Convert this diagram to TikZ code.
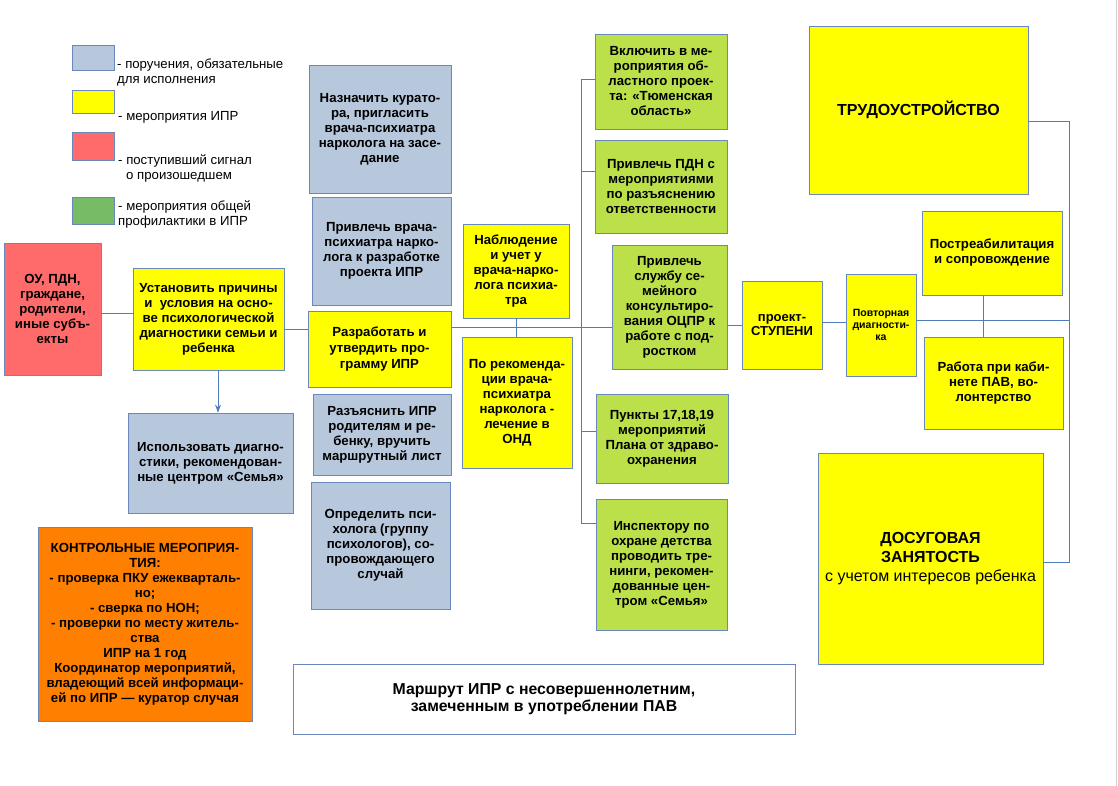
\documentclass[tikz,border=0pt]{standalone}
\usepackage{fontspec}
\setmainfont{Liberation Sans}
\usetikzlibrary{arrows.meta}
\definecolor{bordc}{HTML}{6A88BE}
\definecolor{linec}{HTML}{4F7DB9}
\definecolor{blueF}{HTML}{B8C8DC}
\definecolor{yelF}{HTML}{FFFF00}
\definecolor{redF}{HTML}{FF6B6B}
\definecolor{greenL}{HTML}{77BB66}
\definecolor{greenF}{HTML}{BBE04A}
\definecolor{orangeF}{HTML}{FF8000}
\tikzset{
  box/.style={draw=bordc, line width=0.8pt, inner sep=0pt, align=center,
    font=\bfseries\fontsize{13.2}{15}\selectfont},
  bluebox/.style={box, fill=blueF},
  yelbox/.style={box, fill=yelF},
  redbox/.style={box, fill=redF},
  grbox/.style={box, fill=greenF},
  orbox/.style={box, fill=orangeF},
  whbox/.style={box, fill=white},
  swatch/.style={draw=bordc, line width=0.8pt, inner sep=0pt},
  legtext/.style={anchor=west, inner sep=0pt, align=left, font=\fontsize{13.2}{15.2}\selectfont},
  conn/.style={draw=linec, line width=0.9pt},
}
\newcommand\bx[7]{%
  \pgfmathsetmacro\bxw{#5-#3}\pgfmathsetmacro\bxh{#6-#4}%
  \pgfmathsetmacro\bxx{(#3+#5)/2}\pgfmathsetmacro\bxy{(#4+#6)/2}%
  \node[#1, minimum width=\bxw pt, minimum height=\bxh pt, anchor=center] (#2) at (\bxx,\bxy) {#7};}
\begin{document}
\begin{tikzpicture}[x=1pt,y=-1pt]
\useasboundingbox (0,0) rectangle (1118,786);
\draw[gray!35, line width=0.8pt] (1116,0) -- (1116,786);

% legend
\bx{swatch, fill=blueF}{lg1}{72}{45}{114}{70}{}
\bx{swatch, fill=yelF}{lg2}{72}{90}{114}{113}{}
\bx{swatch, fill=redF}{lg3}{72}{132}{114}{160}{}
\bx{swatch, fill=greenL}{lg4}{72}{197}{114}{224}{}
\node[legtext] (lt1) at (117,72.5) {- поручения, обязательные\\для исполнения};
\node[legtext] (lt2) at (118,117) {- мероприятия ИПР};
\node[legtext] (lt3) at (118,168.5) {- поступивший сигнал\\\hspace*{8pt}о произошедшем};
\node[legtext] (lt4) at (118,214.5) {- мероприятия общей\\профилактики в ИПР};

% left column
\bx{redbox}{ou}{4}{243}{101}{375}{ОУ, ПДН,\\граждане,\\родители,\\иные субъ-\\екты}
\bx{yelbox}{ust}{133}{268}{284}{370}{Установить причины\\и\ \ условия на осно-\\ве психологической\\диагностики семьи и\\ребенка}
\bx{bluebox}{isp}{128}{413}{293}{513}{Использовать диагно-\\стики, рекомендован-\\ные центром «Семья»}
\bx{orbox}{ctrl}{38}{527}{252}{721}{КОНТРОЛЬНЫЕ МЕРОПРИЯ-\\ТИЯ:\\- проверка ПКУ ежекварталь-\\но;\\- сверка по НОН;\\- проверки по месту житель-\\ства\\ИПР на 1 год\\Координатор мероприятий,\\владеющий всей информаци-\\ей по ИПР — куратор случая}

% second column
\bx{bluebox}{naz}{309}{65}{451}{193}{Назначить курато-\\ра, пригласить\\врача-психиатра\\нарколога на засе-\\дание}
\bx{bluebox}{privl}{312}{197}{451}{305}{Привлечь врача-\\психиатра нарко-\\лога к разработке\\проекта ИПР}
\bx{yelbox,font=\bfseries\fontsize{13.2}{16}\selectfont}{razr}{308}{311}{451}{387}{Разработать и\\утвердить про-\\грамму ИПР}
\bx{bluebox}{razya}{313}{394}{451}{475}{Разъяснить ИПР\\родителям и ре-\\бенку, вручить\\маршрутный лист}
\bx{bluebox}{opr}{311}{482}{450}{609}{Определить пси-\\холога (группу\\психологов), со-\\провождающего\\случай}

% third column
\bx{yelbox}{nab}{463}{224}{569}{318}{Наблюдение\\и учет у\\врача-нарко-\\лога психиа-\\тра}
\bx{yelbox}{rek}{462}{337}{572}{468}{По рекоменда-\\ции врача-\\психиатра\\нарколога -\\лечение в\\ОНД}

% green column
\bx{grbox}{vkl}{595}{34}{727}{129}{Включить в ме-\\роприятия об-\\ластного проек-\\та: «Тюменская\\область»}
\bx{grbox}{pdn}{595}{140}{727}{233}{Привлечь ПДН с\\мероприятиями\\по разъяснению\\ответственности}
\bx{grbox}{srv}{612}{245}{727}{369}{Привлечь\\службу се-\\мейного\\консультиро-\\вания ОЦПР к\\работе с под-\\ростком}
\bx{grbox}{pun}{596}{394}{728}{483}{Пункты 17,18,19\\мероприятий\\Плана от здраво-\\охранения}
\bx{grbox}{insp}{596}{499}{727}{630}{Инспектору по\\охране детства\\проводить тре-\\нинги, рекомен-\\дованные цен-\\тром «Семья»}

% right part
\bx{yelbox,font=\bfseries\fontsize{13}{14.5}\selectfont}{proj}{742}{281}{822}{369}{проект-\\СТУПЕНИ}
\bx{yelbox,font=\bfseries\fontsize{10.5}{12.3}\selectfont}{povt}{846}{274}{916}{376}{Повторная\\диагности-\\ка}
\bx{yelbox,font=\bfseries\fontsize{16}{19}\selectfont}{trud}{809}{26}{1028}{194}{ТРУДОУСТРОЙСТВО}
\bx{yelbox}{post}{922}{211}{1062}{295}{Постреабилитация\\и сопровождение}
\bx{yelbox}{rab}{924}{337}{1063}{429}{Работа при каби-\\нете ПАВ, во-\\лонтерство}
\bx{yelbox,font=\bfseries\fontsize{16}{19}\selectfont}{dos}{818}{453}{1043}{664}{ДОСУГОВАЯ\\ЗАНЯТОСТЬ\\{\mdseries\fontsize{16}{19}\selectfont с учетом интересов ребенка}}

% title
\bx{whbox,font=\bfseries\fontsize{15.8}{17.5}\selectfont}{title}{293}{664}{795}{734}{Маршрут ИПР с несовершеннолетним,\\замеченным в употреблении ПАВ}

% helper coordinates
\coordinate (h313) at (0,313);
\coordinate (h329) at (0,329);
\coordinate (h327) at (0,327);
\coordinate (h171) at (0,171);
\coordinate (h431) at (0,431);
\coordinate (h325) at (0,325);
\coordinate (h322) at (0,322);
\coordinate (h320) at (0,320);
\coordinate (v218) at (218,0);
\coordinate (v516) at (516,0);
\coordinate (v983) at (983,0);
\coordinate (bt) at (581,79);
\coordinate (bb) at (581,523);
\coordinate (rt) at (1069,121);
\coordinate (rb) at (1069,562);

% connectors
\draw[conn] (ou.east |- h313) -- (ust.west |- h313);
\draw[conn] (ust.east |- h329) -- (razr.west |- h329);
\draw[conn,-{Stealth[length=8pt,width=6pt]}] (ust.south -| v218) -- (isp.north -| v218);
\draw[conn] (razr.east |- h327) -- (srv.west |- h327);
\draw[conn] (nab.south -| v516) -- (rek.north -| v516);
\draw[conn] (vkl.west |- bt) -- (bt) -- (bb) -- (insp.west |- bb);
\draw[conn] (pdn.west |- h171) -- (bt |- h171);
\draw[conn] (pun.west |- h431) -- (bt |- h431);
\draw[conn] (srv.east |- h325) -- (proj.west |- h325);
\draw[conn] (proj.east |- h322) -- (povt.west |- h322);
\draw[conn] (trud.east |- rt) -- (rt) -- (rb) -- (dos.east |- rb);
\draw[conn] (povt.east |- h320) -- (rt |- h320);
\draw[conn] (post.south -| v983) -- (rab.north -| v983);
\end{tikzpicture}
\end{document}
